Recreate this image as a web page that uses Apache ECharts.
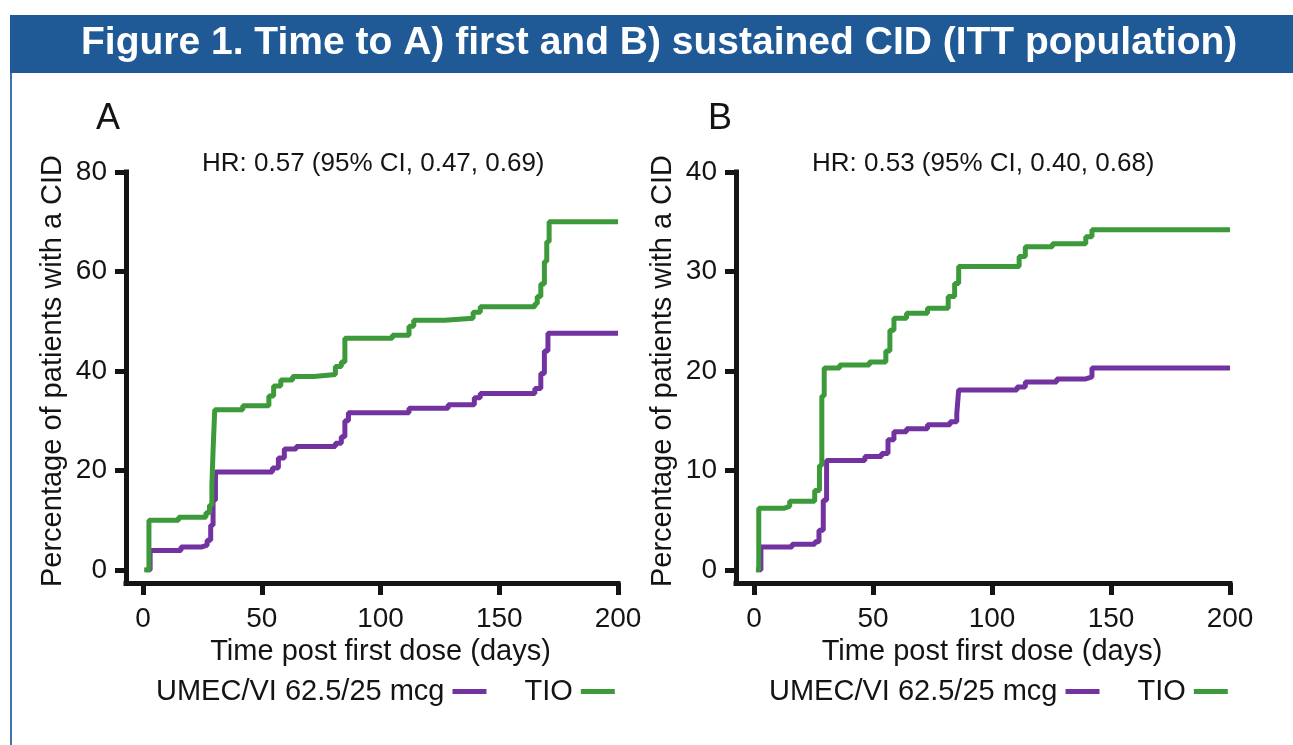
<!DOCTYPE html>
<html>
<head>
<meta charset="utf-8">
<title>Figure 1</title>
<script src="https://cdn.jsdelivr.net/npm/echarts@6.0.0/dist/echarts.min.js"></script>
<style>
  html, body { margin: 0; padding: 0; background: #fff; }
  #fig { width: 1293px; height: 745px; }
</style>
</head>
<body>
<div id="fig"></div>
<script>
// step points [day, % of patients with a CID]
const umecFirst = [
  [1, 0], [3, 3.9], [16, 4.6], [24.5, 5.0], [27, 6.0], [28.5, 9], [29.5, 14], [30.5, 19.7],
  [54.5, 20.5], [57, 22.5], [59.5, 24.3], [64.5, 24.8], [81, 25.5], [83.5, 26.8], [85, 30],
  [86.5, 31.6], [112, 32.5], [128.5, 33.2], [139.5, 34.6], [142, 35.5], [165, 36.5],
  [167.5, 39.5], [169, 44], [170.5, 47.6], [200, 47.6]
];
const tioFirst = [
  [0.5, 0], [2.5, 10.0], [15, 10.6], [26.5, 11.5], [28, 13], [29, 17], [29.5, 24], [30.2, 32.2],
  [42, 33.0], [53, 35], [55, 37], [58, 38.2], [63, 38.9], [72, 39.3], [81, 40.9], [83.5, 41.8],
  [85, 46.6], [105, 47.2], [112, 49], [114, 50.2], [127, 50.6], [139, 51.8], [142, 52.9],
  [165, 53.5], [166, 55], [167.5, 57.5], [169, 62], [170, 66], [171, 70], [200, 70]
];
const umecSustained = [
  [1, 0], [2.9, 2.3], [16, 2.6], [25.6, 2.85], [27.3, 4.0], [29.1, 7.0], [30.5, 11.0],
  [46.6, 11.4], [53.6, 11.7], [56.3, 13.1], [58.8, 13.9], [64.1, 14.2], [72.9, 14.6],
  [82.4, 14.9], [85.2, 15.7], [86, 18.1], [110.5, 18.4], [114, 18.9], [127.2, 19.2],
  [139.4, 19.4], [142, 20.3], [200, 20.3]
];
const tioSustained = [
  [0.8, 0], [2, 6.2], [12.5, 6.4], [15, 6.9], [25.5, 8.0], [27.5, 10.5], [28.5, 17.5],
  [29.5, 20.3], [36, 20.6], [48.5, 20.9], [55.4, 22], [57.1, 24.1], [58.8, 25.3], [64.1, 25.8],
  [72.9, 26.3], [81.6, 27.5], [84.3, 28.8], [86, 30.5], [111.4, 31.5], [114, 32.5],
  [125.4, 32.8], [139.4, 33.5], [142, 34.2], [200, 34.2]
];
const seriesNames = ["UMEC/VI 62.5/25 mcg", "TIO"];
const hrTexts = ["HR: 0.57 (95% CI, 0.47, 0.69)", "HR: 0.53 (95% CI, 0.40, 0.68)"];
const yMax = [80, 40];
const yStep = [20, 10];

const FONT = "'Liberation Sans', Arial, Helvetica, sans-serif";
const INK = "#141414";
const PURPLE = "#7232a0";
const GREEN = "#3d9a3a";

var chartDom = document.getElementById("fig");
var myChart = echarts.init(chartDom);
var option;

// data grids, then the frame grids that carry the longer axis lines
const grids = [
  { left: 143, top: 172, width: 475, height: 398 },
  { left: 754, top: 172, width: 476, height: 398 },
  { left: 126, top: 172, width: 492, height: 411 },
  { left: 736, top: 172, width: 494, height: 411 },
];

function dataXAxis(i) {
  return {
    type: "value",
    gridIndex: i,
    min: 0,
    max: 200,
    interval: 50,
    offset: 13,
    splitLine: { show: false },
    axisLine: { show: false, onZero: false },
    axisTick: { show: true, length: 12, lineStyle: { color: INK, width: 5 } },
    axisLabel: { fontSize: 28, color: INK, fontFamily: FONT, margin: 22 },
    name: "Time post first dose (days)",
    nameLocation: "middle",
    nameGap: 53,
    nameTextStyle: { fontSize: 29, color: INK, fontFamily: FONT },
  };
}
function dataYAxis(i) {
  return {
    type: "value",
    gridIndex: i,
    min: 0,
    max: yMax[i],
    interval: yStep[i],
    offset: i === 0 ? 17 : 18,
    splitLine: { show: false },
    axisLine: { show: false, onZero: false },
    axisTick: { show: true, length: 11, lineStyle: { color: INK, width: 5 } },
    axisLabel: { fontSize: 28, color: INK, fontFamily: FONT, margin: 19 },
    name: "Percentage of patients with a CID",
    nameLocation: "middle",
    nameGap: 59,
    nameTextStyle: { fontSize: 29, color: INK, fontFamily: FONT },
  };
}
function frameAxis(i) {
  return {
    type: "value",
    gridIndex: i,
    min: 0,
    max: 1,
    splitLine: { show: false },
    axisTick: { show: false },
    axisLabel: { show: false },
    axisLine: { show: true, onZero: false, lineStyle: { color: INK, width: 5, cap: "square" } },
  };
}
function curve(name, color, data, panel) {
  return {
    name: name,
    type: "line",
    xAxisIndex: panel,
    yAxisIndex: panel,
    step: "end",
    symbol: "none",
    showSymbol: false,
    lineStyle: { color: color, width: 5 },
    itemStyle: { color: color },
    data: data,
  };
}
function legendAt(left) {
  return {
    left: left,
    top: 677,
    padding: 0,
    align: "right",
    icon: "rect",
    itemWidth: 34,
    itemHeight: 5,
    itemGap: 38,
    data: seriesNames,
    textStyle: { fontSize: 29, color: INK, fontFamily: FONT, padding: [0, 3, 0, 0] },
  };
}

option = {
  backgroundColor: "#fff",
  animation: false,
  graphic: [
    { type: "rect", shape: { x: 10, y: 15, width: 1283, height: 58 }, style: { fill: "#1f5a97" } },
    { type: "rect", shape: { x: 10, y: 73, width: 2, height: 672 }, style: { fill: "#3f72aa" } },
  ],
  title: [
    {
      text: "Figure 1. Time to A) first and B) sustained CID (ITT population)",
      left: 81, top: 24, padding: 0,
      textStyle: { fontSize: 39, fontWeight: "bold", color: "#fff", fontFamily: FONT },
    },
    { text: "A", left: 96, top: 101, padding: 0,
      textStyle: { fontSize: 36, fontWeight: "normal", color: INK, fontFamily: FONT } },
    { text: "B", left: 708, top: 101, padding: 0,
      textStyle: { fontSize: 36, fontWeight: "normal", color: INK, fontFamily: FONT } },
    { text: hrTexts[0], left: 202, top: 151, padding: 0,
      textStyle: { fontSize: 26, fontWeight: "normal", color: INK, fontFamily: FONT } },
    { text: hrTexts[1], left: 812, top: 151, padding: 0,
      textStyle: { fontSize: 26, fontWeight: "normal", color: INK, fontFamily: FONT } },
  ],
  legend: [legendAt(156), legendAt(769)],
  grid: grids,
  xAxis: [dataXAxis(0), dataXAxis(1), frameAxis(2), frameAxis(3)],
  yAxis: [dataYAxis(0), dataYAxis(1), frameAxis(2), frameAxis(3)],
  series: [
    curve(seriesNames[0], PURPLE, umecFirst, 0),
    curve(seriesNames[1], GREEN, tioFirst, 0),
    curve(seriesNames[0], PURPLE, umecSustained, 1),
    curve(seriesNames[1], GREEN, tioSustained, 1),
  ],
};

option && myChart.setOption(option);
</script>
</body>
</html>
